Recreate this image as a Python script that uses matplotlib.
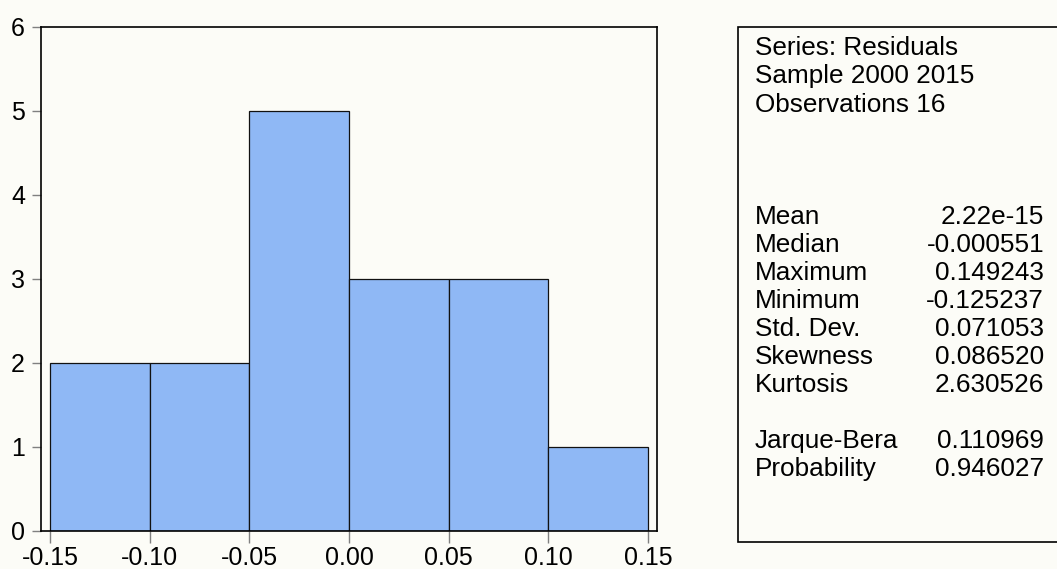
import matplotlib
matplotlib.use("Agg")
import matplotlib.pyplot as plt
from matplotlib.patches import Rectangle

plt.rcParams['font.family'] = ['Liberation Sans', 'DejaVu Sans']

# Histogram of residuals
bin_edges = [-0.15, -0.10, -0.05, 0.00, 0.05, 0.10, 0.15]
counts = [2, 2, 5, 3, 3, 1]
x_ticks = [-0.15, -0.10, -0.05, 0.00, 0.05, 0.10, 0.15]
x_labels = ['-0.15', '-0.10', '-0.05', '0.00', '0.05', '0.10', '0.15']
y_ticks = [0, 1, 2, 3, 4, 5, 6]

# Stats box
header_lines = ['Series: Residuals', 'Sample 2000 2015', 'Observations 16']
stat_names = ['Mean', 'Median', 'Maximum', 'Minimum', 'Std. Dev.', 'Skewness', 'Kurtosis']
stat_values = ['2.22e-15', '-0.000551', '0.149243', '-0.125237', '0.071053', '0.086520', '2.630526']
test_names = ['Jarque-Bera', 'Probability']
test_values = ['0.110969', '0.946027']

W, H = 1057, 569
bg = '#fcfcf7'
bar_color = '#8fb8f5'

fig = plt.figure(figsize=(W / 100, H / 100), dpi=100, facecolor=bg)

ax = fig.add_axes([41 / W, (H - 531) / H, 616 / W, 504 / H], facecolor=bg)
widths = [bin_edges[i + 1] - bin_edges[i] for i in range(len(counts))]
ax.bar(bin_edges[:-1], counts, width=widths, align='edge',
       color=bar_color, edgecolor='#111111', linewidth=0.9)
ax.set_xlim(-0.1545, 0.1545)
ax.set_ylim(0, 6)
ax.set_xticks(x_ticks)
ax.set_xticklabels(x_labels)
ax.set_yticks(y_ticks)
ax.tick_params(axis='x', length=8.5, width=1, color='#808080', pad=2, labelsize=18)
ax.tick_params(axis='y', length=6.5, width=1, color='#808080', pad=5, labelsize=18)
for s in ax.spines.values():
    s.set_linewidth(1.2)
    s.set_color('black')

# stats box
fig.add_artist(Rectangle((738 / W, (H - 542) / H), 330 / W, 515 / H,
                         transform=fig.transFigure, facecolor=bg,
                         edgecolor='black', linewidth=1.2))

fs = 18.8
def put(txt, x, y, ha='left'):
    fig.text(x / W, 1 - y / H, txt, ha=ha, va='center', fontsize=fs)

for i, t in enumerate(header_lines):
    put(t, 755, 48 + 28.3 * i)
for i, (n, v) in enumerate(zip(stat_names, stat_values)):
    put(n, 755, 217 + 28 * i)
    put(v, 1044, 217 + 28 * i, ha='right')
for i, (n, v) in enumerate(zip(test_names, test_values)):
    put(n, 755, 441 + 28 * i)
    put(v, 1044, 441 + 28 * i, ha='right')

fig.savefig('out.png', dpi=100, facecolor=bg)
